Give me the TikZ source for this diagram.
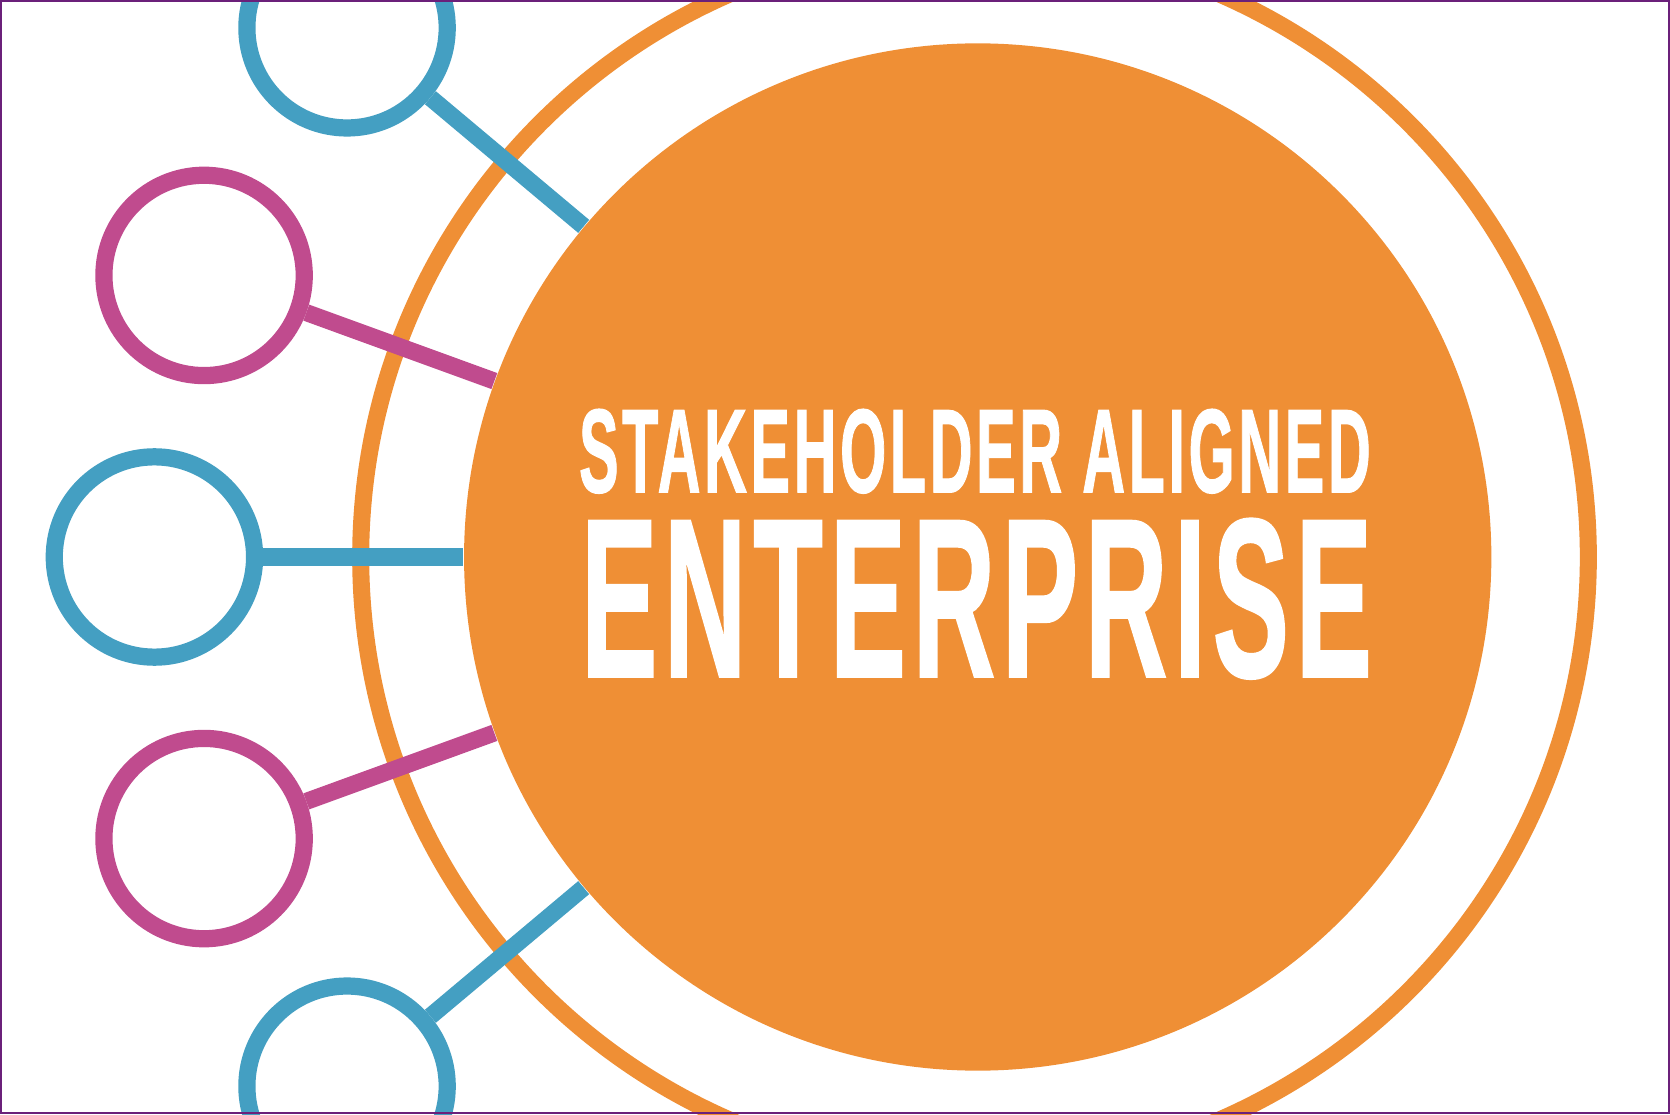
\documentclass[tikz,border=0pt]{standalone}
\usepackage{graphicx}
\usepackage{fontspec}
\newfontfamily\bannerfont[LetterSpace=6,FakeBold=1.2]{Liberation Sans}
\definecolor{hubOrange}{RGB}{239,143,53}
\definecolor{tealBlue}{RGB}{68,159,194}
\definecolor{plum}{RGB}{192,75,142}
\definecolor{frameViolet}{RGB}{107,32,122}

\tikzset{x=0.01cm,y=0.01cm,
	hub/.style={circle,fill=hubOrange,minimum size=9.64cm,inner sep=0pt},
	ring/.style={circle,draw=hubOrange,line width=4.55pt,minimum size=11.52cm,inner sep=0pt},
	party/.style={circle,draw=#1,line width=4.6pt,fill=white,minimum size=1.88cm,inner sep=0pt},
	link/.style={draw=#1,line width=4.55pt},
	banner/.style={text=white,inner sep=0pt,anchor=south west,font=\bannerfont\bfseries}}

\begin{document}
\begin{tikzpicture}
	\useasboundingbox (0,0) rectangle (1568,1046);
	\clip (0,0) rectangle (1568,1046);
	\node[ring] (ring) at (915,523) {};
	\node[hub] (hub) at (918,523) {};

	\path (hub.center) ++(140:773) node[party=tealBlue] (p1) {};
	\path (hub.center) ++(160:773) node[party=plum] (p2) {};
	\path (hub.center) ++(180:773) node[party=tealBlue] (p3) {};
	\path (hub.center) ++(200:773) node[party=plum] (p4) {};
	\path (hub.center) ++(220:773) node[party=tealBlue] (p5) {};

	\draw[link=tealBlue] (p1) -- (hub);
	\draw[link=plum] (p2) -- (hub);
	\draw[link=tealBlue] (p3) -- (hub);
	\draw[link=plum] (p4) -- (hub);
	\draw[link=tealBlue] (p5) -- (hub);

	\node[banner] (stake) at (543,582) {\resizebox{7.43cm}{0.78cm}{STAKEHOLDER ALIGNED}};
	\node[banner] (enterprise) at (545,408) {\resizebox{7.42cm}{1.48cm}{ENTERPRISE}};

	\draw[frameViolet,line width=0.62pt] (1,1) rectangle (1567,1045);
\end{tikzpicture}
\end{document}
